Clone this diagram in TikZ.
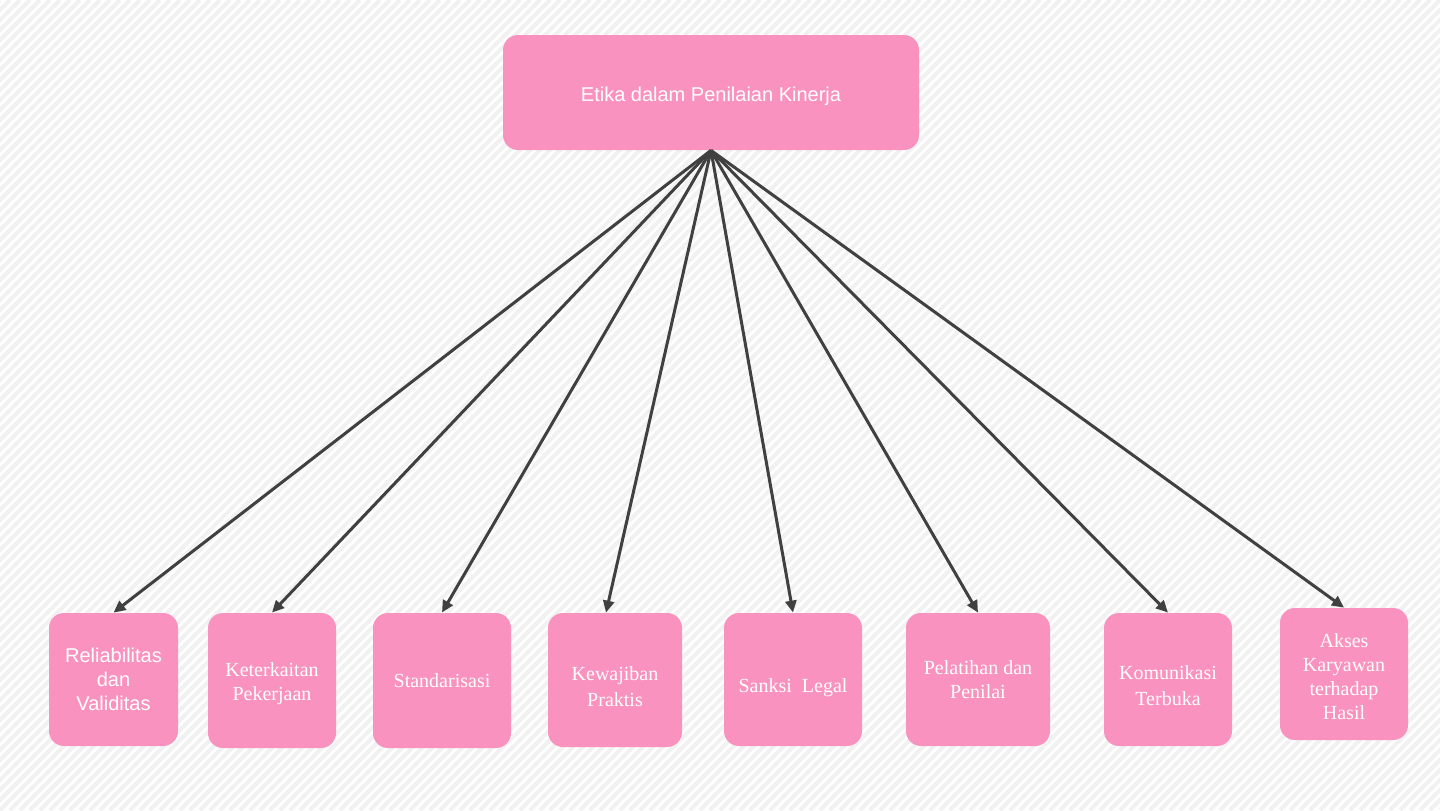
\documentclass[tikz,border=0pt]{standalone}
\usepackage{fontspec}
\setmainfont{Liberation Serif}
\setsansfont{Liberation Sans}
\usetikzlibrary{arrows.meta}
\definecolor{boxpink}{HTML}{F992BE}
\definecolor{linkgray}{HTML}{404040}
\definecolor{stripe}{HTML}{F1F1F1}
\begin{document}
\begin{tikzpicture}[x=0.5pt, y=-0.5pt,
    card/.style={fill=boxpink, rounded corners=7.5pt, text=white, align=center,
        font=\fontsize{10}{12}\selectfont, inner sep=0pt},
    link/.style={draw=linkgray, line width=1.5pt, -{Triangle[length=6pt,width=5.5pt]}}]
    % Background
    \useasboundingbox (0,0) rectangle (1440,810);
    \fill[white] (0,0) rectangle (1440,810);
    \begin{scope}
        \clip (0,0) rectangle (1440,810);
        \foreach \x in {-820,-810,...,1440} {
            \draw[stripe, line width=2pt] (\x,810) -- (\x+810,0);
        }
    \end{scope}

    % Top box
    \node[card, minimum width=208pt, minimum height=57.5pt,
        font=\sffamily\fontsize{10}{12}\selectfont] (etika) at (711,92.5) {\rule{0pt}{11.2pt}Etika dalam Penilaian Kinerja};

    % Bottom boxes
    \node[card, minimum width=64.5pt, minimum height=66.5pt,
        font=\sffamily\fontsize{10}{12}\selectfont] (reliab) at (113.5,679.5) {Reliabilitas\\dan\\Validitas};
    \node[card, minimum width=64pt, minimum height=67.5pt] (keterk) at (272,680.5) {\rule{0pt}{9.9pt}Keterkaitan\\Pekerjaan};
    \node[card, minimum width=69pt, minimum height=67.5pt] (standar) at (442,680.5) {Standarisasi};
    \node[card, minimum width=67pt, minimum height=67pt,
        font=\fontsize{10}{13}\selectfont] (kewaj) at (615,680) {\rule{0pt}{13.9pt}Kewajiban\\Praktis};
    \node[card, minimum width=69pt, minimum height=66.5pt] (sanksi) at (793,679.5) {\rule{0pt}{14.9pt}Sanksi\ \ Legal};
    \node[card, minimum width=72pt, minimum height=66.5pt] (pelatih) at (978,679.5) {Pelatihan dan\\Penilai};
    \node[card, minimum width=64pt, minimum height=66.5pt,
        font=\fontsize{10}{13}\selectfont] (komun) at (1168,679.5) {\rule{0pt}{13.4pt}Komunikasi\\Terbuka};
    \node[card, minimum width=64pt, minimum height=66pt] (akses) at (1344,674) {\rule{0pt}{9.9pt}Akses\\Karyawan\\terhadap\\Hasil};

    % Connectors
    \foreach \b in {reliab, keterk, standar, sanksi, pelatih, komun, akses} {
        \draw[link] (etika.south) -- (\b.north);
    }
    \draw[link] (etika.south) -- ([xshift=-4.5pt]kewaj.north);
\end{tikzpicture}
\end{document}
